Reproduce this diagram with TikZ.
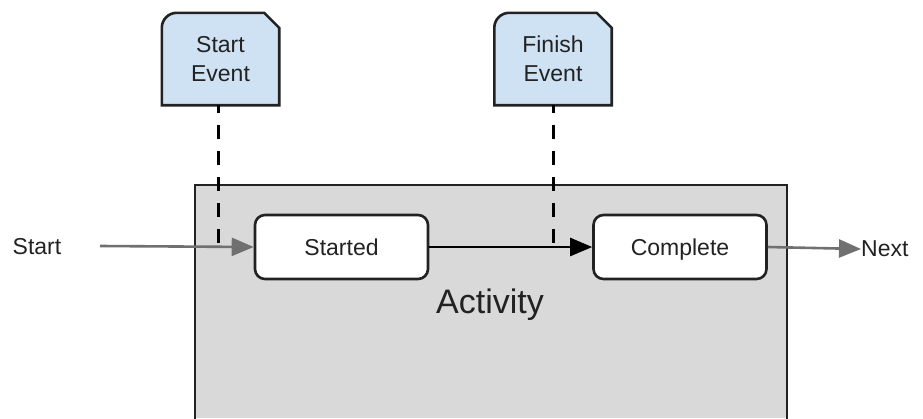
\documentclass[tikz,border=0pt]{standalone}
\usepackage{fontspec}
\setmainfont{Liberation Sans}
\usetikzlibrary{arrows.meta}
\definecolor{actfill}{HTML}{D9D9D9}
\definecolor{evfill}{HTML}{CFE2F3}
\definecolor{edge}{HTML}{222222}
\definecolor{grayarrow}{HTML}{707070}
\definecolor{txt}{HTML}{222222}
\tikzset{
  lbl/.style={font=\fontsize{23}{29}\selectfont, text=txt, align=center, inner sep=0pt},
  statebox/.style={draw=edge, line width=2.6pt, fill=white, rounded corners=10pt,
    minimum width=173pt, minimum height=64pt, lbl, text height=16.5pt, text depth=0pt},
  eventnode/.style={minimum width=117pt, minimum height=92pt, lbl},
  eventshape/.style={draw=edge, line width=2.6pt, fill=evfill},
  dashlink/.style={draw=black, line width=3pt, dash pattern=on 14pt off 12pt, dash phase=6pt},
  grayflow/.style={draw=grayarrow, line width=2.6pt, -{Triangle[length=22pt,width=18pt]}},
  blackflow/.style={draw=black, line width=2.6pt, -{Triangle[length=22pt,width=18pt]}},
}
\begin{document}
\begin{tikzpicture}[x=1pt,y=-1pt]
\useasboundingbox (0,0) rectangle (923,418);
% Activity container (cut off at bottom)
\fill[actfill] (195,185) rectangle (787,418);
\draw[edge, line width=2.6pt] (195,420) -- (195,185) -- (787,185) -- (787,420);
\node[lbl, font=\fontsize{34}{40}\selectfont] (act) at (490,305) {Activity};
% states
\node[statebox] (started) at (341.5,247) {Started};
\node[statebox] (complete) at (680,247) {Complete};
% events
\node[eventnode] (sev) at (220.5,59) {};
\node[eventnode] (fev) at (553,59) {};
\foreach \e in {sev,fev}{
  \draw[eventshape] (\e.south west) [rounded corners=15pt] -- (\e.north west) [sharp corners] -- ([xshift=-15pt]\e.north east) -- ([yshift=-15pt]\e.north east) -- (\e.south east) -- cycle;
}
\node[lbl] at (sev) {Start\\Event};
\node[lbl] at (fev) {Finish\\Event};
% labels
\node[lbl] (startlbl) at (37,247) {Start};
\node[lbl, anchor=west] (nextlbl) at (861,249) {Next};
\coordinate (startin) at (100,246);
% dashed links
\draw[dashlink] (sev.south) ++(-2.5,0) coordinate (sevb) -- (sevb |- started.west);
\draw[dashlink] (fev.south) -- (fev.south |- complete.west);
% flows
\draw[grayflow] (startin) -- (started.west);
\draw[blackflow] (started.east) -- (complete.west);
\draw[grayflow] (complete.east) -- (nextlbl.west);
\end{tikzpicture}
\end{document}
